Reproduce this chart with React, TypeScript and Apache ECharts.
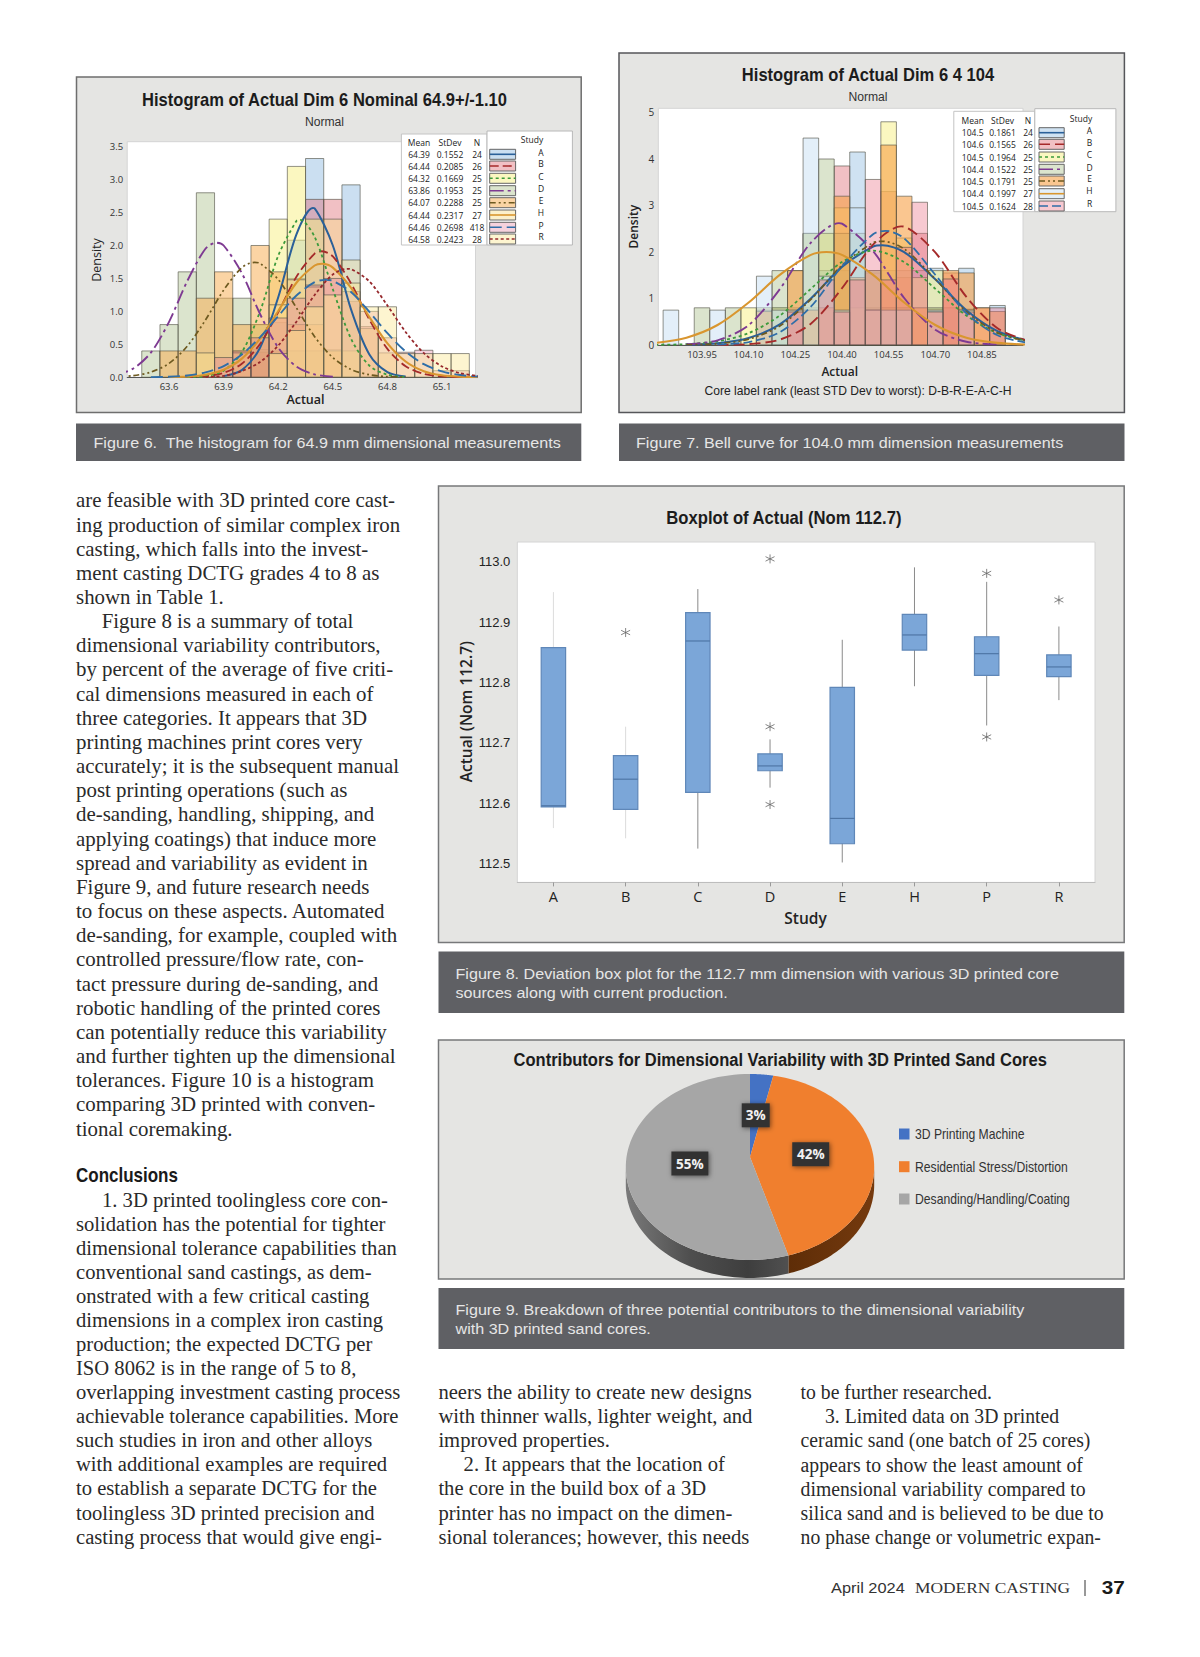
import React, { useEffect, useRef } from "react";
import * as echarts from "echarts";

// ---------- Figure 6 data ----------
const bins6 = [63.5, 63.6, 63.7, 63.8, 63.9, 64.0, 64.1, 64.2, 64.3, 64.4, 64.5, 64.6, 64.7, 64.8, 64.9, 65.0, 65.1, 65.2];
const hist6A = [0, 0, 0, 0, 0, 0, 0.42, 0.83, 2.08, 3.32, 0.42, 2.92, 0, 0, 0, 0, 0, 0];
const hist6B = [0, 0, 0, 0, 0, 0.38, 0.38, 0.38, 1.5, 2.7, 2.7, 1.15, 0.77, 0, 0, 0, 0, 0];
const hist6C = [0, 0, 0, 0, 0, 0.4, 0.8, 2.4, 3.2, 2.4, 0.4, 0.4, 0, 0, 0, 0, 0, 0];
const hist6D = [0.4, 0.8, 1.6, 2.8, 1.2, 1.2, 0.8, 0.4, 0.4, 0.4, 0, 0, 0, 0, 0, 0, 0, 0];
const hist6E = [0, 0.4, 0.4, 1.2, 1.6, 0.8, 2.0, 1.6, 0.8, 0.8, 0.4, 0, 0, 0, 0, 0, 0, 0];
const hist6H = [0, 0, 0, 0.37, 0, 0.37, 0, 1.1, 1.48, 1.37, 2.4, 1.78, 0.74, 0.37, 0, 0, 0, 0];
const hist6P = [0, 0, 0, 0, 0.3, 0.4, 0.6, 0.9, 1.2, 1.4, 1.5, 1.3, 1.0, 0.6, 0.38, 0.41, 0.1, 0.1];
const hist6R = [0, 0, 0, 0, 0, 0, 0, 0.36, 0.71, 1.07, 1.25, 1.43, 1.07, 1.07, 0.36, 0.36, 0.36, 0.36];
const curveX6 = [63.3, 63.4, 63.5, 63.6, 63.7, 63.8, 63.9, 64.0, 64.1, 64.2, 64.3, 64.4, 64.5, 64.6, 64.7, 64.8, 64.9, 65.0, 65.1, 65.2, 65.3];
const curve6A = [0, 0, 0, 0, 0, 0.001, 0.018, 0.109, 0.448, 1.215, 2.17, 2.565, 2.0, 1.03, 0.35, 0.078, 0.012, 0.001, 0, 0, 0];
const curve6B = [0, 0, 0, 0, 0.003, 0.017, 0.067, 0.206, 0.506, 0.987, 1.527, 1.878, 1.835, 1.425, 0.879, 0.431, 0.168, 0.052, 0.013, 0.002, 0];
const curve6C = [0, 0, 0, 0, 0.002, 0.018, 0.1, 0.38, 1.0, 1.845, 2.373, 2.13, 1.336, 0.585, 0.179, 0.039, 0.005, 0, 0, 0, 0];
const curve6D = [0.033, 0.127, 0.374, 0.842, 1.46, 1.95, 2.0, 1.58, 0.96, 0.449, 0.162, 0.045, 0.009, 0.001, 0, 0, 0, 0, 0, 0, 0];
const curve6E = [0.005, 0.024, 0.079, 0.211, 0.472, 0.869, 1.323, 1.664, 1.729, 1.484, 1.054, 0.617, 0.299, 0.119, 0.039, 0.011, 0.002, 0, 0, 0, 0];
const curve6H = [0, 0, 0, 0.002, 0.011, 0.038, 0.114, 0.283, 0.588, 1.006, 1.435, 1.696, 1.665, 1.357, 0.918, 0.515, 0.24, 0.093, 0.03, 0.008, 0.002];
const curve6P = [0, 0, 0.002, 0.009, 0.028, 0.074, 0.171, 0.346, 0.608, 0.93, 1.241, 1.443, 1.463, 1.293, 0.995, 0.669, 0.392, 0.2, 0.089, 0.034, 0.011];
const curve6R = [0, 0, 0, 0, 0.001, 0.004, 0.022, 0.094, 0.232, 0.482, 0.844, 1.249, 1.559, 1.64, 1.457, 1.09, 0.688, 0.367, 0.165, 0.062, 0.02];
const peakX6 = [64.39, 64.44, 64.32, 63.86, 64.07, 64.44, 64.46, 64.58];
const peakY6 = [2.57, 1.913, 2.39, 2.043, 1.744, 1.722, 1.479, 1.646];
const xTicks6 = [63.6, 63.9, 64.2, 64.5, 64.8, 65.1];
const yTicks6 = [0, 0.5, 1, 1.5, 2, 2.5, 3, 3.5];
const study6 = ["A", "B", "C", "D", "E", "H", "P", "R"];
const mean6 = ["64.39", "64.44", "64.32", "63.86", "64.07", "64.44", "64.46", "64.58"];
const stdev6 = ["0.1552", "0.2085", "0.1669", "0.1953", "0.2288", "0.2317", "0.2698", "0.2423"];
const n6 = ["24", "26", "25", "25", "25", "27", "418", "28"];

// ---------- Figure 7 data ----------
const bins7 = [103.85, 103.9, 103.95, 104.0, 104.05, 104.1, 104.15, 104.2, 104.25, 104.3, 104.35, 104.4, 104.45, 104.5, 104.55, 104.6, 104.65, 104.7, 104.75, 104.8, 104.85, 104.9];
const hist7A = [0, 0, 0, 0, 0, 0, 0, 0.8, 0.8, 0.8, 1.6, 1.6, 4.15, 0.8, 1.6, 1.6, 1.6, 1.65, 0.8, 1.65, 0, 0.85];
const hist7B = [0, 0, 0, 0, 0, 0, 0, 0, 0.75, 0.75, 0.75, 3.85, 1.45, 1.55, 3.3, 1.45, 2.4, 0.77, 1.55, 0.77, 0.8, 0];
const hist7C = [0, 0, 0, 0, 0, 0.8, 0.8, 0.8, 0, 2.4, 2.4, 2.95, 0.8, 1.6, 4.8, 2.3, 1.45, 1.6, 0, 0.75, 0, 0];
const hist7D = [0, 0, 0.8, 0, 0.8, 0, 0.75, 1.6, 1.6, 2.4, 4.0, 2.4, 2.4, 1.6, 0.8, 0.8, 0, 0.8, 0, 0, 0, 0];
const hist7E = [0, 0, 0, 0, 0, 0, 0.72, 0, 1.6, 0.75, 0.8, 3.2, 1.45, 0.75, 4.3, 3.2, 0.8, 0.72, 1.6, 1.55, 0.8, 0.72];
const hist7H = [0.75, 0, 0, 0.75, 0, 0, 1.48, 0.75, 0.75, 4.45, 1.48, 0.75, 2.95, 0.75, 0.75, 0.75, 0, 0.75, 0, 0.75, 0, 0];
const hist7R = [0, 0, 0, 0, 0, 0, 0, 0, 0.71, 0, 1.4, 0.71, 1.4, 3.56, 1.4, 2.1, 3.07, 0.71, 1.42, 0.71, 0, 0.8];
const curveX7 = [103.8, 103.9, 104.0, 104.1, 104.2, 104.3, 104.4, 104.5, 104.6, 104.7, 104.8, 104.9, 105.0];
const curve7A = [0.001, 0.007, 0.037, 0.149, 0.445, 1.0, 1.68, 2.116, 1.998, 1.413, 0.748, 0.297, 0.088];
const curve7B = [0, 0, 0.002, 0.019, 0.115, 0.458, 1.22, 2.16, 2.545, 1.99, 1.035, 0.359, 0.082];
const curve7C = [0.004, 0.019, 0.08, 0.255, 0.632, 1.208, 1.783, 2.03, 1.783, 1.208, 0.632, 0.255, 0.08];
const curve7D = [0.001, 0.015, 0.099, 0.427, 1.2, 2.2, 2.61, 2.02, 1.01, 0.33, 0.07, 0.012, 0.001];
const curve7E = [0, 0.005, 0.028, 0.125, 0.408, 0.979, 1.713, 2.2, 2.065, 1.42, 0.716, 0.264, 0.071];
const curve7H = [0.045, 0.158, 0.43, 0.914, 1.508, 1.938, 1.938, 1.508, 0.914, 0.43, 0.158, 0.045, 0.01];
const curve7R = [0, 0.001, 0.01, 0.063, 0.275, 0.823, 1.695, 2.382, 2.294, 1.51, 0.683, 0.21, 0.045];
const peakX7 = [104.53, 104.59, 104.5, 104.39, 104.53, 104.35, 104.54];
const peakY7 = [2.144, 2.55, 2.03, 2.62, 2.23, 2.0, 2.456];
const xTicks7 = [103.95, 104.1, 104.25, 104.4, 104.55, 104.7, 104.85];
const yTicks7 = [0, 1, 2, 3, 4, 5];
const study7 = ["A", "B", "C", "D", "E", "H", "R"];
const mean7 = ["104.5", "104.6", "104.5", "104.4", "104.5", "104.4", "104.5"];
const stdev7 = ["0.1861", "0.1565", "0.1964", "0.1522", "0.1791", "0.1997", "0.1624"];
const n7 = ["24", "26", "25", "25", "25", "27", "28"];

// ---------- Figure 8 data: min, Q1, median, Q3, max ----------
const boxStudies = ["A", "B", "C", "D", "E", "H", "P", "R"];
const boxMin = [112.559, 112.542, 112.525, 112.626, 112.502, 112.794, 112.729, 112.771];
const boxQ1 = [112.594, 112.59, 112.618, 112.654, 112.533, 112.854, 112.812, 112.81];
const boxMedian = [112.596, 112.64, 112.869, 112.662, 112.575, 112.879, 112.848, 112.826];
const boxQ3 = [112.858, 112.679, 112.916, 112.682, 112.792, 112.913, 112.876, 112.846];
const boxMax = [112.95, 112.727, 112.955, 112.706, 112.871, 112.991, 112.967, 112.893];
const outlierStudy = ["B", "D", "D", "D", "P", "P", "R"];
const outlierValue = [112.883, 113.005, 112.727, 112.598, 112.981, 112.71, 112.937];
const yTicks8 = [112.5, 112.6, 112.7, 112.8, 112.9, 113.0];

// ---------- Figure 9 data ----------
const pieNames = ["3D Printing Machine", "Residential Stress/Distortion", "Desanding/Handling/Coating"];
const pieValues = [3, 42, 55];

// ---------- Page text ----------
const column1a = [
  "are feasible with 3D printed core cast-", "ing production of similar complex iron", "casting, which falls into the invest-", "ment casting DCTG grades 4 to 8 as", "shown in Table 1.",
  "Figure 8 is a summary of total", "dimensional variability contributors,", "by percent of the average of five criti-", "cal dimensions measured in each of", "three categories. It appears that 3D",
  "printing machines print cores very", "accurately; it is the subsequent manual", "post printing operations (such as", "de-sanding, handling, shipping, and", "applying coatings) that induce more",
  "spread and variability as evident in", "Figure 9, and future research needs", "to focus on these aspects. Automated", "de-sanding, for example, coupled with", "controlled pressure/flow rate, con-",
  "tact pressure during de-sanding, and", "robotic handling of the printed cores", "can potentially reduce this variability", "and further tighten up the dimensional", "tolerances. Figure 10 is a histogram",
  "comparing 3D printed with conven-", "tional coremaking.",
];
const column1b = [
  "1. 3D printed toolingless core con-", "solidation has the potential for tighter", "dimensional tolerance capabilities than", "conventional sand castings, as dem-", "onstrated with a few critical casting",
  "dimensions in a complex iron casting", "production; the expected DCTG per", "ISO 8062 is in the range of 5 to 8,", "overlapping investment casting process", "achievable tolerance capabilities. More",
  "such studies in iron and other alloys", "with additional examples are required", "to establish a separate DCTG for the", "toolingless 3D printed precision and", "casting process that would give engi-",
];
const column2 = [
  "neers the ability to create new designs", "with thinner walls, lighter weight, and", "improved properties.", "2. It appears that the location of", "the core in the build box of a 3D", "printer has no impact on the dimen-", "sional tolerances; however, this needs",
];
const column3 = [
  "to be further researched.", "3. Limited data on 3D printed", "ceramic sand (one batch of 25 cores)", "appears to show the least amount of", "dimensional variability compared to", "silica sand and is believed to be due to", "no phase change or volumetric expan-",
];

const SANS = '"Liberation Sans", Arial, sans-serif';
const OPEN = '"Open Sans", sans-serif';
const SERIF = '"Liberation Serif", serif';

const FILL: Record<string, string> = {
  A: "rgba(130,178,222,0.42)",
  B: "rgba(222,105,115,0.42)",
  C: "rgba(248,240,130,0.5)",
  D: "rgba(165,187,130,0.4)",
  E: "rgba(247,172,80,0.52)",
  H: "rgba(248,222,140,0.45)",
  P: "rgba(228,115,150,0.32)",
  R: "rgba(250,232,150,0.45)",
};
const FILL7: Record<string, string> = { ...FILL, H: "rgba(200,224,244,0.5)", R: "rgba(236,120,140,0.4)", E: "rgba(247,160,70,0.6)", A: "rgba(130,178,222,0.38)" };
const LINE: Record<string, { c: string; d: any; w: number }> = {
  A: { c: "#2a6099", d: "solid", w: 2 },
  B: { c: "#a52a2a", d: [9, 4], w: 1.8 },
  C: { c: "#3c9a3c", d: [3, 3], w: 1.8 },
  D: { c: "#7e3a92", d: [14, 4, 3, 4], w: 1.9 },
  E: { c: "#6e5a20", d: [6, 3, 2, 3, 2, 3], w: 1.7 },
  H: { c: "#d9962f", d: "solid", w: 2.1 },
  P: { c: "#2f6ea8", d: [12, 5], w: 1.9 },
  R: { c: "#96282c", d: [3, 2.5], w: 1.8 },
};
const LINE7: Record<string, { c: string; d: any; w: number }> = { ...LINE, R: { c: "#2f6ea8", d: [9, 4], w: 1.8 }, B: { c: "#a52a2a", d: [11, 5], w: 1.9 } };

const txt = (x: number, y: number, text: string, o: any = {}) => ({
  type: "text",
  x,
  y,
  z: 100,
  silent: true,
  rotation: o.rotation || 0,
  scaleX: o.sx || 1,
  style: {
    text,
    fill: o.color || "#222",
    fontSize: o.size || 12,
    fontFamily: o.family || SANS,
    fontWeight: o.weight || "normal",
    textAlign: o.align || "left",
    verticalAlign: "middle",
  },
});
const box = (x: number, y: number, w: number, h: number, fill: string, stroke?: string, z = -10, lw = 1) => ({
  type: "rect",
  z,
  silent: true,
  shape: { x, y, width: w, height: h },
  style: { fill, stroke: stroke || "none", lineWidth: lw },
});

function table(
  studies: string[], means: string[], stdevs: string[], ns: string[], lines: any, fills: any,
  t: { l: number; m: number; r: number; tt: number; tb: number; lt: number; cm: number; cs: number; cn: number; head: number; rows: number[]; sx0: number; sx1: number; studyX: number; studyY: number; letterX: number; letters: number[] }
) {
  const out: any[] = [
    box(t.l, t.tt, t.m - t.l, t.tb - t.tt, "#ffffff", "#c4c4c4", 90),
    box(t.m, t.lt, t.r - t.m, t.tb - t.lt, "#ffffff", "#b8b8b8", 91),
    txt(t.cm, t.head, "Mean", { size: 8.5, align: "center", family: OPEN }),
    txt(t.cs, t.head, "StDev", { size: 8.5, align: "center", family: OPEN }),
    txt(t.cn, t.head, "N", { size: 8.5, align: "center", family: OPEN }),
    txt(t.studyX, t.studyY, "Study", { size: 8.5, align: "center", family: OPEN }),
  ];
  studies.forEach((s, i) => {
    const y = t.rows[i];
    out.push(txt(t.cm, y, means[i], { size: 8.5, align: "center", family: OPEN }));
    out.push(txt(t.cs, y, stdevs[i], { size: 8.5, align: "center", family: OPEN }));
    out.push(txt(t.cn, y, ns[i], { size: 8.5, align: "center", family: OPEN }));
    out.push(txt(t.letterX, t.letters[i], s, { size: 8.5, align: "center", family: OPEN }));
    out.push({ ...box(t.sx0, y - 5, t.sx1 - t.sx0, 10, fills[s], "#666", 95) });
    const l = lines[s];
    out.push({
      type: "line", z: 96, silent: true,
      shape: { x1: t.sx0, y1: y, x2: t.sx1, y2: y },
      style: { stroke: l.c, lineWidth: 1.6, lineDash: l.d === "solid" ? null : l.d },
    });
  });
  return out;
}

const histBars = (name: string, width: number, fill: string, bins: number[], vals: number[], xi: number) => ({
  type: "custom",
  name: "hist" + name,
  xAxisIndex: xi,
  yAxisIndex: xi,
  z: 3,
  encode: { x: 0, y: 1 },
  data: bins.map((b, i) => [b, vals[i]]).filter((d) => d[1] > 0),
  renderItem: (_p: any, api: any) => {
    const x = api.value(0);
    const d = api.value(1);
    const a = api.coord([x - width / 2, d]);
    const b = api.coord([x + width / 2, 0]);
    return {
      type: "rect",
      shape: { x: a[0], y: a[1], width: b[0] - a[0], height: b[1] - a[1] },
      style: { fill, stroke: "rgba(80,80,70,0.62)", lineWidth: 1 },
    };
  },
});
const curve = (name: string, xs: number[], ys: number[], px: number, py: number, l: any, xi: number) => {
  const pts = xs.map((x, i) => [x, ys[i]]).filter((d) => d[1] > 0.001 && d[0] !== px);
  pts.push([px, py]);
  pts.sort((a, b) => a[0] - b[0]);
  return {
    type: "line",
    name: "curve" + name,
    xAxisIndex: xi,
    yAxisIndex: xi,
    z: 5,
    smooth: 0.3,
    showSymbol: false,
    symbol: "none",
    clip: true,
    data: pts,
    lineStyle: { color: l.c, width: l.w, type: l.d },
  };
};

// Pie geometry
const PIE = { cx: 750, cy: 1167, ax: 750, ay: 1157, rx: 124.2, ry: 93, depth: 18 };
const PIE_COLORS = ["#4472c4", "#f07f2e", "#a6a6a6"];
const ell = (t: number, off = 0) => [PIE.cx + PIE.rx * Math.sin(t), PIE.cy - PIE.ry * Math.cos(t) + off];
const sliceRange = (i: number) => {
  const total = pieValues.reduce((a, b) => a + b, 0);
  const before = pieValues.slice(0, i).reduce((a, b) => a + b, 0);
  return [(before / total) * 2 * Math.PI, ((before + pieValues[i]) / total) * 2 * Math.PI];
};

function buildOption() {
  const g = [
    { left: 127.2, top: 141.7, width: 348.3, height: 235.6 },
    { left: 658.3, top: 108.3, width: 364.7, height: 236.7 },
    { left: 517.3, top: 542, width: 577.7, height: 340.4 },
  ].map((r) => ({ ...r, show: true, backgroundColor: "#ffffff", borderColor: "#d4d4d4", borderWidth: 1, containLabel: false }));

  const numAxis = (min: number, max: number, ticks: number[], dec: number, size: number, gi: number, extra: any = {}) => ({
    type: "value",
    gridIndex: gi,
    min,
    max,
    splitLine: { show: false },
    axisTick: { show: false, customValues: ticks },
    axisLine: { show: false },
    axisLabel: {
      customValues: ticks,
      formatter: (v: number) => v.toFixed(dec),
      fontSize: size,
      color: "#333",
      fontFamily: OPEN,
      margin: 4,
    },
    ...extra,
  });

  const series: any[] = [];
  const h6: any = { A: hist6A, B: hist6B, C: hist6C, D: hist6D, E: hist6E, H: hist6H, P: hist6P, R: hist6R };
  const c6: any = { A: curve6A, B: curve6B, C: curve6C, D: curve6D, E: curve6E, H: curve6H, P: curve6P, R: curve6R };
  study6.forEach((s) => series.push(histBars("6" + s, 0.1, FILL[s], bins6, h6[s], 0)));
  study6.forEach((s, i) => series.push(curve("6" + s, curveX6, c6[s], peakX6[i], peakY6[i], LINE[s], 0)));
  const h7: any = { A: hist7A, B: hist7B, C: hist7C, D: hist7D, E: hist7E, H: hist7H, R: hist7R };
  const c7: any = { A: curve7A, B: curve7B, C: curve7C, D: curve7D, E: curve7E, H: curve7H, R: curve7R };
  study7.forEach((s) => series.push(histBars("7" + s, 0.05, FILL7[s], bins7, h7[s], 1)));
  study7.forEach((s, i) => series.push(curve("7" + s, curveX7, c7[s], peakX7[i], peakY7[i], LINE7[s], 1)));

  series.push({
    type: "custom",
    name: "box",
    xAxisIndex: 2,
    yAxisIndex: 2,
    z: 3,
    encode: { x: 0, y: [1, 2, 3, 4, 5] },
    data: boxStudies.map((s, i) => [i, boxMin[i], boxQ1[i], boxMedian[i], boxQ3[i], boxMax[i]]),
    renderItem: (_p: any, api: any) => {
      const i = api.value(0);
      const w = api.size([1, 0])[0] * 0.338;
      const pMin = api.coord([i, api.value(1)]);
      const pQ1 = api.coord([i, api.value(2)]);
      const pMed = api.coord([i, api.value(3)]);
      const pQ3 = api.coord([i, api.value(4)]);
      const pMax = api.coord([i, api.value(5)]);
      const x = pMin[0];
      const whisk = i < 2 ? "#dcdcdc" : "#8a8a8a";
      return {
        type: "group",
        children: [
          { type: "line", shape: { x1: x, y1: pMax[1], x2: x, y2: pMin[1] }, style: { stroke: whisk, lineWidth: 1 } },
          { type: "rect", shape: { x: x - w / 2, y: pQ3[1], width: w, height: pQ1[1] - pQ3[1] }, style: { fill: "#7ba6d8", stroke: "#5f87b8", lineWidth: 1.2 } },
          { type: "line", shape: { x1: x - w / 2, y1: pMed[1], x2: x + w / 2, y2: pMed[1] }, style: { stroke: "#4f76a6", lineWidth: 1.2 } },
        ],
      };
    },
  });
  series.push({
    type: "scatter",
    name: "outliers",
    xAxisIndex: 2,
    yAxisIndex: 2,
    z: 4,
    symbol: "path://M0 -5L0 5M-4.3 -2.5L4.3 2.5M-4.3 2.5L4.3 -2.5",
    symbolSize: 9,
    itemStyle: { color: "none", borderColor: "#666", borderWidth: 1 },
    data: outlierStudy.map((s, i) => [s, outlierValue[i]]),
  });

  // Pie side wall
  series.push({
    type: "custom",
    name: "pieSide",
    coordinateSystem: "none",
    z: 3,
    data: pieValues.map((v) => [v]),
    renderItem: (p: any) => {
      const [a0, a1] = sliceRange(p.dataIndex);
      const s = Math.max(a0, Math.PI / 2);
      const e = Math.min(a1, (3 * Math.PI) / 2);
      if (e <= s) return { type: "group", children: [] };
      const pts: number[][] = [];
      const N = 60;
      for (let k = 0; k <= N; k++) pts.push(ell(s + ((e - s) * k) / N));
      for (let k = N; k >= 0; k--) pts.push(ell(s + ((e - s) * k) / N, PIE.depth));
      const fill =
        p.dataIndex === 1
          ? new echarts.graphic.LinearGradient(0, 0, 1, 0, [{ offset: 0, color: "#5e2d07" }, { offset: 1, color: "#753a0e" }])
          : new echarts.graphic.LinearGradient(0, 0, 1, 0, [{ offset: 0, color: "#7a7a7a" }, { offset: 0.4, color: "#4e4e4e" }, { offset: 0.75, color: "#3e3e3e" }, { offset: 1, color: "#505050" }]);
      return { type: "polygon", shape: { points: pts }, style: { fill } };
    },
  });
  // Pie top faces
  series.push({
    type: "custom",
    name: "pieTop",
    coordinateSystem: "none",
    z: 4,
    data: pieValues.map((v) => [v]),
    renderItem: (p: any) => {
      const [a0, a1] = sliceRange(p.dataIndex);
      const pts: number[][] = [[PIE.ax, PIE.ay]];
      const N = 80;
      for (let k = 0; k <= N; k++) pts.push(ell(a0 + ((a1 - a0) * k) / N));
      return { type: "polygon", shape: { points: pts }, style: { fill: PIE_COLORS[p.dataIndex] } };
    },
  });
  // Pie labels
  series.push({
    type: "custom",
    name: "pieLabels",
    coordinateSystem: "none",
    z: 6,
    data: pieValues.map((v) => [v]),
    renderItem: (p: any) => {
      const [a0, a1] = sliceRange(p.dataIndex);
      const t = (a0 + a1) / 2;
      const x = PIE.ax + 0.49 * PIE.rx * Math.sin(t);
      const y = PIE.ay - 0.45 * PIE.ry * Math.cos(t);
      const label = pieValues[p.dataIndex] + "%";
      const w = label.length > 2 ? 37 : 28;
      return {
        type: "group",
        children: [
          { type: "rect", shape: { x: x - w / 2, y: y - 12, width: w, height: 24 }, style: { fill: "#333333", shadowBlur: 5, shadowColor: "rgba(0,0,0,0.5)", shadowOffsetX: 1, shadowOffsetY: 1 } },
          { type: "text", x, y, style: { text: label, fill: "#f2f2f2", fontSize: 13.5, fontWeight: "bold", fontFamily: OPEN, textAlign: "center", verticalAlign: "middle" } },
        ],
      };
    },
  });

  const el: any[] = [
    box(0, 0, 1200, 1657, "#ffffff", undefined, -20),
    // panels
    box(76.5, 77, 504.7, 335.5, "#e5e5e3", "#6e6e6e", -10, 1.5),
    box(619, 53, 505.4, 359.5, "#e5e5e3", "#55565a", -10, 1.5),
    box(438.5, 486, 685.7, 456.5, "#e5e5e3", "#77787a", -10, 1.5),
    box(438.5, 1040, 685.7, 239, "#e5e5e3", "#77787a", -10, 1.5),
    // captions
    box(76, 423.5, 505.3, 37.5, "#5f6064", undefined, -10),
    box(619, 423.5, 505.5, 37.5, "#5f6064", undefined, -10),
    box(438.5, 951.5, 685.8, 61.5, "#5f6064", undefined, -10),
    box(438.5, 1288, 685.8, 61, "#5f6064", undefined, -10),
  ];

  const cap = { size: 15, color: "#e6e6e6", sx: 1.075 };
  el.push(txt(93.5, 443, "Figure 6.  The histogram for 64.9 mm dimensional measurements", cap));
  el.push(txt(636, 443, "Figure 7. Bell curve for 104.0 mm dimension measurements", cap));
  el.push(txt(455.5, 973.5, "Figure 8. Deviation box plot for the 112.7 mm dimension with various 3D printed core", cap));
  el.push(txt(455.5, 992.5, "sources along with current production.", cap));
  el.push(txt(455.5, 1310, "Figure 9. Breakdown of three potential contributors to the dimensional variability", cap));
  el.push(txt(455.5, 1329, "with 3D printed sand cores.", cap));

  // Figure 6 labels
  el.push(txt(324.5, 100, "Histogram of Actual Dim 6 Nominal 64.9+/-1.10", { size: 18, weight: "bold", align: "center", sx: 0.92, color: "#1c1c1c" }));
  el.push(txt(324.5, 121.7, "Normal", { size: 13.5, align: "center", sx: 0.9, color: "#333" }));
  el.push(txt(96.3, 260, "Density", { size: 12.5, rotation: Math.PI / 2, align: "center", family: OPEN, color: "#222" }));
  el.push(txt(305.5, 399, "Actual", { size: 12.5, align: "center", family: OPEN, weight: 600 }));
  el.push(...table(study6, mean6, stdev6, n6, LINE, FILL, {
    l: 401.4, m: 487, r: 572.4, tt: 134, tb: 245, lt: 131, cm: 419, cs: 450, cn: 477,
    head: 142, rows: [154.3, 166, 178.3, 190.7, 202.7, 215, 227.3, 239], sx0: 489.7, sx1: 515.6,
    studyX: 532, studyY: 139.3, letterX: 541, letters: [152, 163.3, 176, 188.7, 200, 212.3, 225, 236.7],
  }));

  // Figure 7 labels
  el.push(txt(868, 75, "Histogram of Actual Dim 6 4 104", { size: 18, weight: "bold", align: "center", sx: 0.92, color: "#1c1c1c" }));
  el.push(txt(868, 96, "Normal", { size: 13.5, align: "center", sx: 0.9, color: "#333" }));
  el.push(txt(633.5, 226.7, "Density", { size: 12, rotation: Math.PI / 2, align: "center", family: OPEN, weight: 600 }));
  el.push(txt(839.7, 371.7, "Actual", { size: 12, align: "center", family: OPEN, weight: 600 }));
  el.push(txt(858, 391, "Core label rank (least STD Dev to worst): D-B-R-E-A-C-H", { size: 13, align: "center", sx: 0.93, color: "#222" }));
  el.push(...table(study7, mean7, stdev7, n7, LINE7, FILL7, {
    l: 953.8, m: 1034.8, r: 1115.9, tt: 111.3, tb: 211.7, lt: 108.7, cm: 972.7, cs: 1002.5, cn: 1028,
    head: 120.3, rows: [132.7, 144.3, 157, 169.3, 181, 193.7, 206], sx0: 1039, sx1: 1064.2,
    studyX: 1081, studyY: 118.3, letterX: 1089.5, letters: [130.7, 142, 154, 167, 178.7, 190.7, 203.7],
  }));

  // Figure 8 labels
  el.push(txt(783.9, 518, "Boxplot of Actual (Nom 112.7)", { size: 18, weight: "bold", align: "center", sx: 0.925, color: "#1c1c1c" }));
  el.push(txt(465.5, 711.7, "Actual (Nom 112.7)", { size: 15.5, rotation: Math.PI / 2, align: "center", family: OPEN, weight: 600 }));
  el.push(txt(805.5, 918, "Study", { size: 15.5, align: "center", family: OPEN, weight: 600 }));

  // Figure 9 labels
  el.push(txt(780.2, 1059.3, "Contributors for Dimensional Variability with 3D Printed Sand Cores", { size: 19, weight: "bold", align: "center", sx: 0.87, color: "#1c1c1c" }));
  const legY = [1134, 1166.7, 1199];
  pieNames.forEach((n, i) => {
    el.push(box(899, legY[i] - 5.5, 10.5, 11, PIE_COLORS[i], undefined, 50));
    el.push(txt(915, legY[i], n, { size: 14.5, sx: 0.84, color: "#333" }));
  });

  // Body text
  const body = { size: 20, family: SERIF, color: "#2a2a2a", sx: 1.03 };
  const bodyCol1 = { ...body, sx: 1.045 };
  const bodyCol3 = { ...body, sx: 0.985 };
  const indents1a: Record<number, boolean> = { 5: true };
  column1a.forEach((l, i) => el.push(txt(indents1a[i] ? 101.7 : 76, 500.5 + i * 24.16, l, bodyCol1)));
  el.push(txt(76, 1175, "Conclusions", { size: 20, weight: "bold", sx: 0.85, color: "#1a1a1a", family: SANS }));
  column1b.forEach((l, i) => el.push(txt(i === 0 ? 102 : 76, 1199.7 + i * 24.07, l, body)));
  column2.forEach((l, i) => el.push(txt(i === 3 ? 463.6 : 438.4, 1392.3 + i * 24.07, l, body)));
  column3.forEach((l, i) => el.push(txt(i === 1 ? 825 : 800.6, 1392.3 + i * 24.07, l, bodyCol3)));

  // Footer
  el.push(txt(831, 1588, "April 2024", { size: 14.5, sx: 1.13, color: "#333" }));
  el.push(txt(915, 1588, "MODERN CASTING", { size: 15, sx: 1.16, family: SERIF, color: "#333" }));
  el.push({ type: "line", z: 100, silent: true, shape: { x1: 1085, y1: 1580, x2: 1085, y2: 1596 }, style: { stroke: "#333", lineWidth: 1 } });
  el.push(txt(1101.8, 1588, "37", { size: 18, weight: "bold", sx: 1.15, color: "#1a1a1a" }));

  return {
    animation: false,
    backgroundColor: "#ffffff",
    grid: g,
    xAxis: [
      numAxis(63.37, 65.284, xTicks6, 1, 9.5, 0, { axisLine: { show: true, onZero: false, lineStyle: { color: "#555" } } }),
      numAxis(103.8095, 104.982, xTicks7, 2, 9.5, 1, { axisLine: { show: true, onZero: false, lineStyle: { color: "#555" } } }),
      {
        type: "category",
        gridIndex: 2,
        data: boxStudies,
        axisLine: { show: true, lineStyle: { color: "#bdbdbd" } },
        axisTick: { show: true, alignWithLabel: true, length: 4, lineStyle: { color: "#999" } },
        axisLabel: { fontSize: 14.5, color: "#222", fontFamily: OPEN, margin: 7 },
      },
    ],
    yAxis: [
      numAxis(0, 3.575, yTicks6, 1, 9.5, 0),
      numAxis(0, 5.09, yTicks7, 0, 10, 1),
      numAxis(112.469, 113.033, yTicks8, 1, 13, 2, {
        axisLabel: { customValues: yTicks8, formatter: (v: number) => v.toFixed(1), fontSize: 13, color: "#222", fontFamily: SANS, margin: 7 },
      }),
    ],
    graphic: { elements: el },
    series,
  };
}

export default function App() {
  const ref = useRef<HTMLDivElement>(null);
  useEffect(() => {
    document.body.style.margin = "0";
    const chart = echarts.init(ref.current as HTMLDivElement, undefined, { renderer: "svg" });
    chart.setOption(buildOption() as any);
    return () => chart.dispose();
  }, []);
  return <div ref={ref} style={{ position: "absolute", left: 0, top: 0, width: 1200, height: 1657 }} />;
}
